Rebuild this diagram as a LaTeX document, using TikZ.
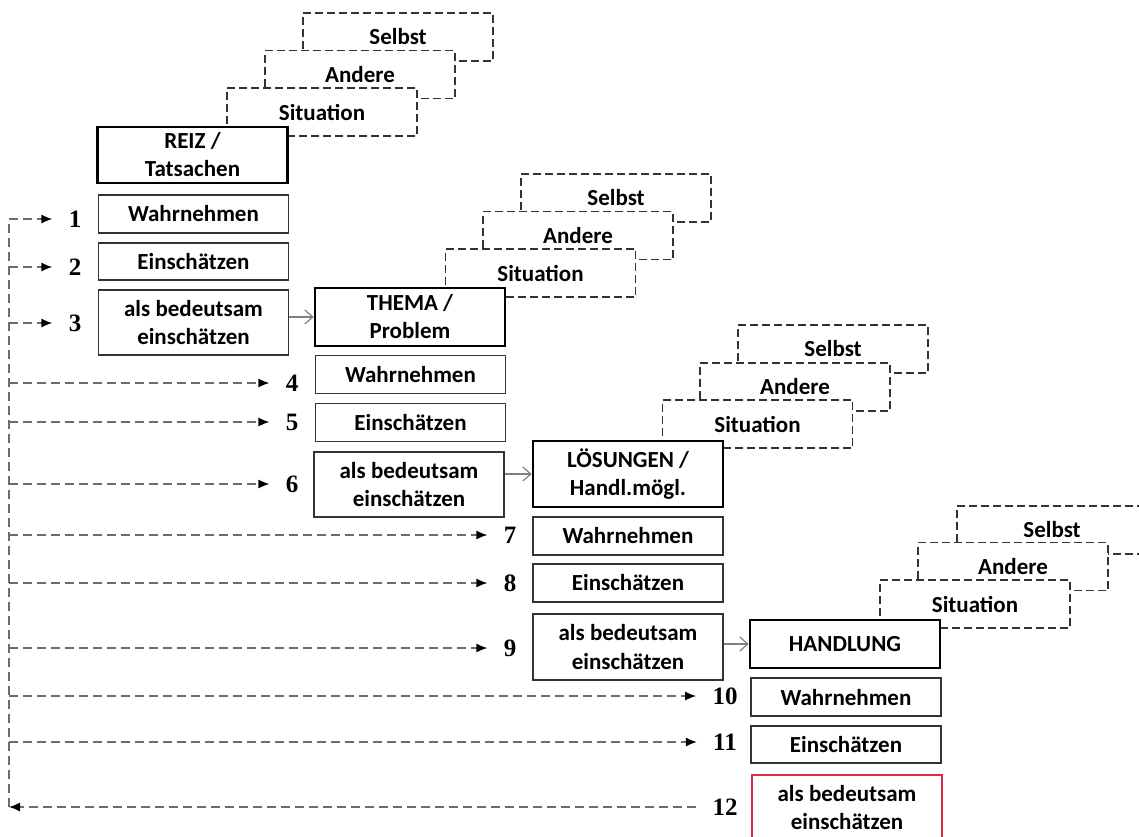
\documentclass[tikz,border=0pt]{standalone}
\usepackage{fontspec}
\setmainfont{Carlito}
\newfontfamily\zahlfont{Liberation Serif}
\usetikzlibrary{arrows.meta}
\definecolor{rahmenrot}{RGB}{226,42,66}
\tikzset{
  kasten/.style={draw=black!80, line width=0.6pt, fill=white, minimum width=95pt,
    minimum height=19pt, inner sep=0pt, align=center,
    font=\fontsize{11.5}{14}\selectfont\bfseries},
  hauptkasten/.style={kasten, draw=black, line width=1.3pt},
  ebene/.style={kasten, dash pattern=on 4pt off 2pt, minimum height=24pt},
  nummer/.style={font=\fontsize{12.5}{14}\selectfont\zahlfont\bfseries, inner xsep=8pt, inner ysep=0pt},
  rueck/.style={draw=gray!85!black, dash pattern=on 4.5pt off 2.5pt, line width=0.65pt},
  pfeil/.style={rueck, -{Latex[black,length=5.5pt,width=4.5pt]}},
  folge/.style={draw=gray, line width=0.6pt, -{Straight Barb[length=4pt,width=7pt]}}
}
\begin{document}
\begin{tikzpicture}[x=0.5pt,y=-0.5pt] %Reiz - Thema - Loesungen - Handlung
  \useasboundingbox (0,0) rectangle (1139,836);
  \clip (0,0) rectangle (1139,836);

  % Stufe 1
  \node[ebene] (sel1) at (398,37) {Selbst};
  \node[ebene] (and1) at (360,74.5) {Andere};
  \node[ebene] (sit1) at (322,112) {Situation};
  \node[hauptkasten, minimum height=28pt] (reiz) at (192.5,155) {REIZ /\\Tatsachen};
  \node[kasten] (wahr1) at (193.5,214) {Wahrnehmen};
  \node[kasten, minimum height=18.5pt] (ein1) at (193.5,261.5) {Einschätzen};
  \node[kasten, minimum height=32.5pt] (als1) at (193.5,322.5) {als bedeutsam\\einschätzen};

  % Stufe 2
  \node[ebene] (sel2) at (616,198) {Selbst};
  \node[ebene] (and2) at (578,235.5) {Andere};
  \node[ebene] (sit2) at (540.5,273) {Situation};
  \node[hauptkasten, minimum height=29pt] (thema) at (410,317) {THEMA /\\Problem};
  \node[kasten] (wahr2) at (410.5,374.5) {Wahrnehmen};
  \node[kasten] (ein2) at (410.5,422.5) {Einschätzen};
  \node[kasten, minimum height=32.5pt] (als2) at (409,484.5) {als bedeutsam\\einschätzen};

  % Stufe 3
  \node[ebene] (sel3) at (833,349) {Selbst};
  \node[ebene] (and3) at (795,387) {Andere};
  \node[ebene] (sit3) at (757.5,424) {Situation};
  \node[hauptkasten, minimum height=33pt] (loes) at (628,474) {LÖSUNGEN /\\Handl.mögl.};
  \node[kasten] (wahr3) at (628,536) {Wahrnehmen};
  \node[kasten] (ein3) at (628,583) {Einschätzen};
  \node[kasten, minimum height=33pt] (als3) at (628,647) {als bedeutsam\\einschätzen};

  % Stufe 4
  \node[ebene] (sel4) at (1052,530) {Selbst};
  \node[ebene] (and4) at (1013,566.5) {Andere};
  \node[ebene] (sit4) at (975,604) {Situation};
  \node[hauptkasten, minimum height=24pt] (hand) at (845,644) {HANDLUNG};
  \node[kasten] (wahr4) at (846,697) {Wahrnehmen};
  \node[kasten, minimum height=18.5pt] (ein4) at (846,744.5) {Einschätzen};
  \node[kasten, draw=rahmenrot, minimum height=32.5pt] (als4) at (847,807.5) {als bedeutsam\\einschätzen};

  \draw[folge] (thema.west -| als1.east) -- (thema.west);
  \draw[folge] (loes.west -| als2.east) -- (loes.west);
  \draw[folge] (hand.west -| als3.east) -- (hand.west);

  % Nummern
  \node[nummer] (n1) at (75,219) {1};
  \node[nummer] (n2) at (75,267) {2};
  \node[nummer] (n3) at (75,323) {3};
  \node[nummer] (n4) at (292,383) {4};
  \node[nummer] (n5) at (292,422) {5};
  \node[nummer] (n6) at (292,484) {6};
  \node[nummer] (n7) at (510,535) {7};
  \node[nummer] (n8) at (510,583) {8};
  \node[nummer] (n9) at (510,648) {9};
  \node[nummer] (n10) at (725,696) {10};
  \node[nummer] (n11) at (725,742) {11};
  \node[nummer] (n12) at (725,807) {12};

  \coordinate (oben) at (9,219);
  \coordinate (unten) at (9,807);

  \draw[rueck] (unten) -- (oben);
  \draw[pfeil] (oben |- n1) -- (n1.west);
  \draw[pfeil] (oben |- n2) -- (n2.west);
  \draw[pfeil] (oben |- n3) -- (n3.west);
  \draw[pfeil] (oben |- n4) -- (n4.west);
  \draw[pfeil] (oben |- n5) -- (n5.west);
  \draw[pfeil] (oben |- n6) -- (n6.west);
  \draw[pfeil] (oben |- n7) -- (n7.west);
  \draw[pfeil] (oben |- n8) -- (n8.west);
  \draw[pfeil] (oben |- n9) -- (n9.west);
  \draw[pfeil] (oben |- n10) -- (n10.west);
  \draw[pfeil] (oben |- n11) -- (n11.west);
  \draw[pfeil] (n12.west) -- (unten);
\end{tikzpicture}
\end{document}
